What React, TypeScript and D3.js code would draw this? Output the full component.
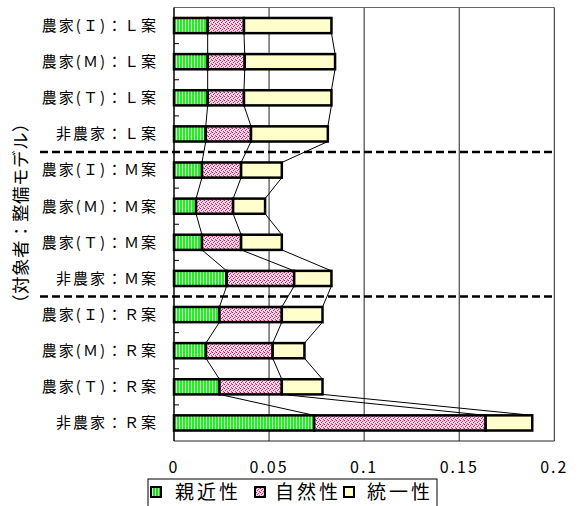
import React from "react";
import * as d3 from "d3";

const categories = [
  "農家(Ｉ)：Ｌ案",
  "農家(Ｍ)：Ｌ案",
  "農家(Ｔ)：Ｌ案",
  "非農家：Ｌ案",
  "農家(Ｉ)：Ｍ案",
  "農家(Ｍ)：Ｍ案",
  "農家(Ｔ)：Ｍ案",
  "非農家：Ｍ案",
  "農家(Ｉ)：Ｒ案",
  "農家(Ｍ)：Ｒ案",
  "農家(Ｔ)：Ｒ案",
  "非農家：Ｒ案",
];
const seriesNames = ["親近性", "自然性", "統一性"];
const shinkin = [0.0177, 0.0177, 0.0177, 0.0167, 0.0147, 0.0116, 0.0147, 0.0277, 0.0239, 0.0168, 0.0239, 0.0737];
const shizen = [0.0191, 0.0195, 0.0191, 0.0238, 0.0206, 0.0195, 0.0206, 0.0355, 0.0328, 0.0351, 0.0328, 0.0902];
const touitsu = [0.046, 0.0475, 0.046, 0.0404, 0.0214, 0.0168, 0.0214, 0.0196, 0.0214, 0.0167, 0.0214, 0.0245];
const xTicks = [0, 0.05, 0.1, 0.15, 0.2];
const xTickLabels = ["0", "0.05", "0.1", "0.15", "0.2"];
const separatorsAfter = [3, 7];
const yTitle = "（対象者：整備モデル）";

const FONT = "'Noto Sans CJK JP', 'Noto Sans', sans-serif";

export default function App() {
  const left = 174, right = 554.3, top = 7.5, bottom = 441;
  const x = d3.scaleLinear().domain([0, 0.2]).range([left, right]);
  const y = d3
    .scaleBand<string>()
    .domain(categories)
    .range([top, bottom])
    .paddingInner(0.58)
    .paddingOuter(0.29);
  const fills = ["url(#pGreen)", "url(#pPink)", "#ffffcc"];
  const stackData = categories.map((c, i) => ({
    cat: c,
    a: shinkin[i],
    b: shizen[i],
    c: touitsu[i],
  }));
  const stacked = d3.stack<any>().keys(["a", "b", "c"])(stackData);
  const bw = y.bandwidth();
  const step = y.step();

  const connectors: any[] = [];
  stacked.forEach((s, k) => {
    for (let i = 0; i < categories.length - 1; i++) {
      const x1 = x(s[i][1]);
      const x2 = x(s[i + 1][1]);
      const y1 = (y(categories[i]) as number) + bw;
      const y2 = y(categories[i + 1]) as number;
      connectors.push(
        <line key={`c${k}-${i}`} x1={x1} y1={y1} x2={x2} y2={y2} stroke="#000" strokeWidth={1} />
      );
    }
  });

  const legendItems = [
    { name: seriesNames[0], fill: "url(#pGreenL)", ix: 151, tx: 175 },
    { name: seriesNames[1], fill: "url(#pPink)", ix: 255, tx: 275 },
    { name: seriesNames[2], fill: "#ffffcc", ix: 344, tx: 367 },
  ];

  return (
    <svg
      width={578}
      height={506}
      style={{ position: "absolute", left: 0, top: 0, background: "#fff" }}
    >
      <defs>
        <pattern id="pGreen" width={3} height={4} patternUnits="userSpaceOnUse">
          <rect width={3} height={4} fill="#22ee22" />
          <rect x={2} width={1} height={4} fill="#ccffcc" />
        </pattern>
        <pattern id="pGreenL" width={3} height={4} patternUnits="userSpaceOnUse">
          <rect width={3} height={4} fill="#11dd11" />
          <rect x={2} width={1} height={4} fill="#ddffdd" />
        </pattern>
        <pattern id="pPink" width={4} height={4} patternUnits="userSpaceOnUse">
          <rect width={4} height={4} fill="#f2d4e2" />
          <rect x={0} y={0} width={1} height={1} fill="#a02060" />
          <rect x={2} y={1} width={1} height={1} fill="#b83878" />
          <rect x={1} y={2} width={1} height={1} fill="#a8285f" />
          <rect x={3} y={3} width={1} height={1} fill="#c04585" />
          <rect x={3} y={0} width={1} height={1} fill="#e090b8" />
        </pattern>
      </defs>

      {/* gridlines */}
      {xTicks.slice(1, -1).map((t) => (
        <line key={`g${t}`} x1={x(t)} x2={x(t)} y1={top} y2={bottom} stroke="#222" strokeWidth={1} />
      ))}
      {/* frame */}
      <line x1={left} x2={right} y1={top} y2={top} stroke="#666" strokeWidth={1} />
      <line x1={right} x2={right} y1={top} y2={bottom} stroke="#222" strokeWidth={1} />
      <line x1={left} x2={right} y1={bottom} y2={bottom} stroke="#222" strokeWidth={1} />
      <line x1={left} x2={left} y1={top} y2={bottom} stroke="#000" strokeWidth={1.5} />
      {/* y ticks inside */}
      {categories.slice(1).map((c, i) => (
        <line
          key={`yt${i}`}
          x1={left}
          x2={left + 5}
          y1={top + step * (i + 1)}
          y2={top + step * (i + 1)}
          stroke="#000"
          strokeWidth={1}
        />
      ))}

      {/* connectors */}
      {connectors}

      {/* bars */}
      {stacked.map((s, k) =>
        s.map((d, i) => (
          <rect
            key={`b${k}-${i}`}
            x={x(d[0])}
            y={y(categories[i])}
            width={x(d[1]) - x(d[0])}
            height={bw}
            fill={fills[k]}
            stroke="#000"
            strokeWidth={2.5}
          />
        ))
      )}

      {/* separators */}
      {separatorsAfter.map((s) => (
        <line
          key={`sep${s}`}
          x1={40}
          x2={right}
          y1={top + step * (s + 1)}
          y2={top + step * (s + 1)}
          stroke="#000"
          strokeWidth={2.5}
          strokeDasharray="8,4"
        />
      ))}

      {/* y labels */}
      {categories.map((c) => (
        <text
          key={`yl${c}`}
          x={158}
          y={(y(c) as number) + bw / 2}
          dy="0.36em"
          textAnchor="end"
          fontFamily={FONT}
          fontSize={15}
          letterSpacing={2}
          fill="#000"
        >
          {c}
        </text>
      ))}

      {/* y title */}
      <text
        transform={`translate(21,${213}) rotate(-90)`}
        textAnchor="middle"
        dy="0.36em"
        fontFamily={FONT}
        fontSize={17.5}
        letterSpacing={0.5}
        fill="#000"
      >
        {yTitle}
      </text>

      {/* x tick labels */}
      {xTicks.map((t, i) => (
        <text
          key={`xl${t}`}
          x={x(t)}
          y={473}
          textAnchor="middle"
          fontFamily={FONT}
          fontSize={16}
          letterSpacing={2}
          fill="#000"
        >
          {xTickLabels[i]}
        </text>
      ))}

      {/* legend */}
      <rect x={148} y={479} width={289} height={30} fill="#fff" stroke="#000" strokeWidth={1} />
      {legendItems.map((it) => (
        <g key={`lg${it.name}`}>
          <rect x={it.ix} y={487} width={10} height={10} fill={it.fill} stroke="#000" strokeWidth={2} />
          <text
            x={it.tx}
            y={499}
            fontFamily={FONT}
            fontSize={19}
            letterSpacing={3}
            fill="#000"
          >
            {it.name}
          </text>
        </g>
      ))}
    </svg>
  );
}
